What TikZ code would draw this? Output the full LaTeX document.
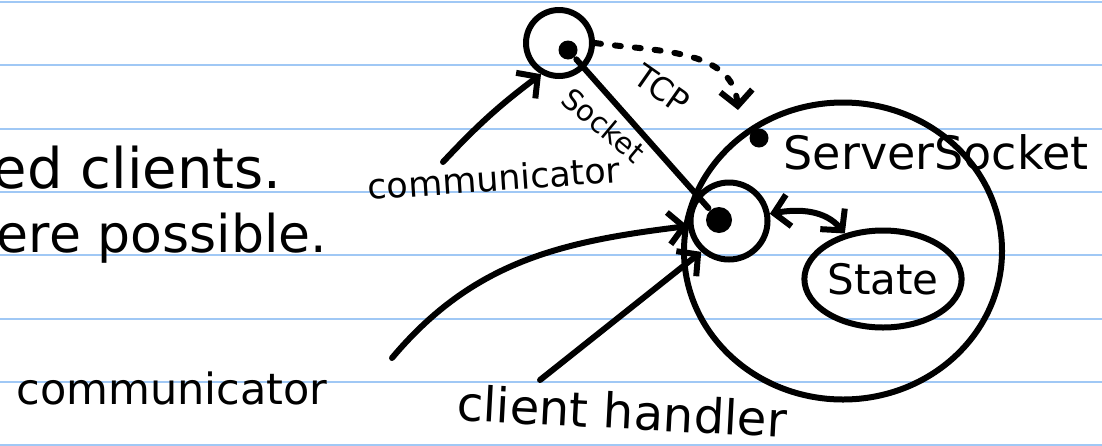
\documentclass[tikz,border=0pt]{standalone}
\usepackage{fontspec}
\setmainfont{DejaVu Sans}
\usetikzlibrary{shapes.geometric,arrows.meta}
\definecolor{ruleblue}{RGB}{160,200,245}

\begin{document}
\begin{tikzpicture}[x=1pt, y=1pt, line width=6pt, line cap=round, line join=round,
  >={Straight Barb[length=15pt,width=32pt]},
  ring/.style={circle, draw, inner sep=0pt},
  blob/.style={circle, fill, inner sep=0pt},
  hand/.style={inner sep=0pt, font=\fontsize{#1}{#1}\selectfont}]

\path[use as bounding box, fill=white] (0,0) rectangle (1102,-445);
\foreach \k in {0,...,7}
  \draw[ruleblue, line width=2pt] (0,-2-63.3*\k) -- (1102,-2-63.3*\k);

\node (client) [ring, minimum size=66pt] at (559,-43) {};
\node (clientdot) [blob, minimum size=19pt] at (568,-50) {};
\node (server) [ellipse, draw, minimum width=318pt, minimum height=297pt] at (843,-251) {};
\node (serverdot) [blob, minimum size=19pt] at (759,-138) {};
\node (handler) [ring, minimum size=77pt] at (729,-221) {};
\node (handlerdot) [blob, minimum size=26pt] at (719,-220) {};
\node (state) [ellipse, draw, minimum width=142pt, minimum height=97pt, hand=42] at (883,-279) {State};

\node (serverlabel) [hand=46] at (936,-152) {ServerSocket};
\node (tcp) [hand=32, rotate=-35] at (662,-89) {TCP};
\node (socket) [hand=29, rotate=-40] at (604,-125) {Socket};
\node (comm1) [hand=35, rotate=4] at (494,-178) {communicator};
\node (comm2) [hand=43] at (172,-388) {communicator};
\node (handlerlabel) [hand=48, rotate=-3] at (622,-411) {client handler};
\node (note1) [hand=56, anchor=base west] at (-10,-188) {ed clients.};
\node (note2) [hand=52, anchor=base west] at (-6,-252) {ere possible.};

\coordinate (comm1tail) at (443,-162);
\coordinate (comm2tail) at (392,-358);
\coordinate (handlertail) at (540,-380);
\coordinate (tcpend) at (738,-110);

\draw[->] (comm1tail) to[bend left=5] (client.240);
\draw[->] (comm2tail) to[out=50,in=187] (handler);
\draw[->] (handlertail) -- (handler.228);
\draw[<->] (handler) to[out=10,in=130] (state);
\draw (clientdot) -- (handlerdot);
\draw[dash pattern=on 6pt off 14pt, ->] (client.east) to[out=-8,in=95] (tcpend);

\end{tikzpicture}
\end{document}
